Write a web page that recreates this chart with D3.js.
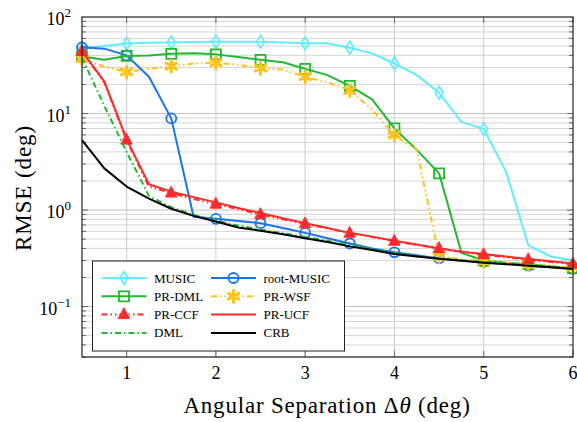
<!DOCTYPE html>
<html><head><meta charset="utf-8">
<script src="https://cdn.jsdelivr.net/npm/d3@7"></script>
<style>body{margin:0;background:#fff}svg{display:block}</style>
</head><body>
<svg id="c" width="577" height="422"></svg>
<script>
// ---- data ----
const xs = [0.5,0.75,1,1.25,1.5,1.75,2,2.25,2.5,2.75,3,3.25,3.5,3.75,4,4.25,4.5,4.75,5,5.25,5.5,5.75,6];
const music    = [47,50,53,54,54.5,55,55.5,55.5,55.5,54.3,53.3,53.3,48,42,33,25,16.4,8.2,6.9,2.5,0.43,0.33,0.30];
const rootMusic= [48.5,47,40,24,8.9,0.85,0.81,0.77,0.73,0.65,0.58,0.51,0.45,0.40,0.365,0.34,0.315,0.30,0.29,0.28,0.265,0.255,0.245];
const prDml    = [39,36,39.5,40,41.5,42,41,38.5,36,34,29,25,19.3,14,7.0,4.2,2.4,0.36,0.30,0.285,0.275,0.262,0.25];
const prWsf    = [37,30.5,27,29,31,33,33.6,32,29.5,28.5,24,21,17.3,11,6.0,4.2,0.33,0.31,0.295,0.285,0.272,0.262,0.255];
const prCcf    = [44,21,5.3,1.75,1.5,1.3,1.15,1.02,0.9,0.8,0.72,0.645,0.575,0.525,0.475,0.435,0.40,0.37,0.345,0.325,0.305,0.29,0.275];
const prUcf    = [44,21.5,5.4,1.85,1.55,1.36,1.2,1.05,0.93,0.82,0.73,0.65,0.58,0.53,0.48,0.44,0.40,0.37,0.35,0.33,0.31,0.295,0.28];
const dml      = [38,12,4.0,1.4,1.07,0.89,0.78,0.69,0.63,0.575,0.525,0.48,0.435,0.395,0.36,0.335,0.317,0.302,0.29,0.28,0.268,0.258,0.25];
const crb      = [5.3,2.7,1.75,1.31,1.03,0.87,0.76,0.66,0.61,0.56,0.51,0.466,0.42,0.385,0.35,0.33,0.312,0.298,0.285,0.275,0.265,0.255,0.245];
const xTicks = [1,2,3,4,5,6];
const yTicks = [0.1,1,10,100];
const yTickLabels = ["\u22121","0","1","2"];
const seriesNames = ["MUSIC","root-MUSIC","PR-DML","PR-WSF","PR-CCF","PR-UCF","DML","CRB"];

// ---- layout ----
const L=82, R=573, T=17, B=357;
const svg=d3.select("#c");
const x=d3.scaleLinear().domain([0.5,6]).range([L,R]);
const y=d3.scaleLog().domain([0.03,100]).range([B,T]);
const serif="'Liberation Serif','DejaVu Serif',serif";

// grid
const minor=[];
[0.01,0.1,1,10].forEach(d=>{for(let k=1;k<=9;k++){const v=d*k; if(v>=0.03&&v<=100) minor.push(v);}});
const g=svg.append("g");
g.selectAll(".hg").data(minor).join("line")
 .attr("x1",L).attr("x2",R).attr("y1",d=>y(d)).attr("y2",d=>y(d))
 .attr("stroke",d=>yTicks.includes(d)?"#c0c0c0":"#d6d6d6").attr("stroke-width",1);
g.selectAll(".vg").data([1,2,3,4,5]).join("line")
 .attr("x1",d=>x(d)).attr("x2",d=>x(d)).attr("y1",T).attr("y2",B)
 .attr("stroke","#cccccc").attr("stroke-width",1);
// ticks inside
g.selectAll(".lt").data(minor).join("line")
 .attr("x1",L).attr("x2",d=>L+(yTicks.includes(d)?6:4)).attr("y1",d=>y(d)).attr("y2",d=>y(d))
 .attr("stroke","#666").attr("stroke-width",1);
g.selectAll(".rt").data(minor).join("line")
 .attr("x1",R).attr("x2",d=>R-(yTicks.includes(d)?6:4)).attr("y1",d=>y(d)).attr("y2",d=>y(d))
 .attr("stroke","#666").attr("stroke-width",1);
g.selectAll(".tt").data(xTicks).join("line")
 .attr("x1",d=>x(d)).attr("x2",d=>x(d)).attr("y1",T).attr("y2",T+6).attr("stroke","#666");
g.selectAll(".bt").data(xTicks).join("line")
 .attr("x1",d=>x(d)).attr("x2",d=>x(d)).attr("y1",B).attr("y2",B-6).attr("stroke","#666");

// series definitions
const diamond="M0,-6.5L4,0L0,6.5L-4,0Z";
const square="M-5,-5H5V5H-5Z";
const tri="M0,-6.5L5.5,4H-5.5Z";
const asterisk="M0,-6V6M-5.2,-3L5.2,3M-5.2,3L5.2,-3";
const circle=d3.symbol(d3.symbolCircle,78)();
const defs=[
 {name:seriesNames[0],v:music,c:"#5eeeff",dash:null,m:diamond,fill:"none",mw:1.6,mIdx:[0,2,4,6,8,10,12,14,16,18]},
 {name:seriesNames[1],v:rootMusic,c:"#1a72ee",dash:null,m:circle,fill:"none",mw:1.8},
 {name:seriesNames[2],v:prDml,c:"#22b830",dash:null,m:square,fill:"none",mw:1.8},
 {name:seriesNames[3],v:prWsf,c:"#ffc21a",dash:"6,3,1.5,3,1.5,3",m:asterisk,fill:"none",mw:3},
 {name:seriesNames[4],v:prCcf,c:"#ff2a2a",dash:"6,3,1.5,3,1.5,3",m:tri,fill:"#ff2a2a",mw:1},
 {name:seriesNames[5],v:prUcf,c:"#ff2a2a",dash:null,m:null},
 {name:seriesNames[6],v:dml,c:"#22b830",dash:"6,3,1.5,3",m:null},
 {name:seriesNames[7],v:crb,c:"#000",dash:null,m:null}
];
const line=d3.line().x(d=>x(d[0])).y(d=>y(d[1]));
const plot=svg.append("g");
defs.forEach(s=>{
  const pts=xs.map((xv,i)=>[xv,s.v[i]]);
  plot.append("path").attr("d",line(pts)).attr("fill","none").attr("stroke",s.c)
   .attr("stroke-width",2).attr("stroke-linejoin","round")
   .attr("stroke-dasharray",s.dash);
  if(s.m){
    const idx=s.mIdx||xs.map((_,i)=>i).filter(i=>i%2===0);
    plot.selectAll(null).data(idx).join("path")
     .attr("d",s.m).attr("transform",i=>`translate(${x(xs[i])},${y(s.v[i])})`)
     .attr("fill",s.fill).attr("stroke",s.c).attr("stroke-width",s.mw)
     .attr("stroke-linecap","round");
  }
});

// frame
svg.append("rect").attr("x",L).attr("y",T).attr("width",R-L).attr("height",B-T)
 .attr("fill","none").attr("stroke","#222").attr("stroke-width",1.2);

// tick labels
svg.selectAll(".xl").data(xTicks).join("text").attr("x",d=>x(d)).attr("y",379)
 .attr("text-anchor","middle").attr("font-family",serif).attr("font-size",18).text(d=>d);
yTicks.forEach((v,i)=>{
  const t=svg.append("text").attr("x",71).attr("y",y(v)+8).attr("text-anchor","end")
   .attr("font-family",serif).attr("font-size",18);
  t.append("tspan").text("10");
  t.append("tspan").attr("dy",-8).attr("font-size",13).text(yTickLabels[i]);
});
// axis titles
const xt=svg.append("text").attr("x",327).attr("y",413).attr("text-anchor","middle")
 .attr("font-family",serif).attr("font-size",23).attr("letter-spacing",0.8);
xt.append("tspan").text("Angular Separation \u0394");
xt.append("tspan").attr("font-style","italic").text("\u03b8");
xt.append("tspan").text(" (deg)");
svg.append("text").attr("transform","translate(31,188) rotate(-90)").attr("text-anchor","middle")
 .attr("font-family",serif).attr("font-size",23).attr("letter-spacing",0.9).text("RMSE (deg)");

// legend
const lg=svg.append("g");
lg.append("rect").attr("x",92.5).attr("y",261).attr("width",252).attr("height",90)
 .attr("fill","#fff").attr("stroke","#222").attr("stroke-width",1);
defs.forEach((s,i)=>{
  const col=i%2, row=Math.floor(i/2);
  const x0=col?211:101.5, yy=278+row*18.3;
  lg.append("line").attr("x1",x0).attr("x2",x0+45).attr("y1",yy).attr("y2",yy)
   .attr("stroke",s.c).attr("stroke-width",2).attr("stroke-dasharray",s.dash);
  if(s.m) lg.append("path").attr("d",s.m).attr("transform",`translate(${x0+22.5},${yy})`)
   .attr("fill",s.fill).attr("stroke",s.c).attr("stroke-width",s.mw).attr("stroke-linecap","round");
  lg.append("text").attr("x",x0+52.5).attr("y",yy+4.5).attr("font-family",serif)
   .attr("font-size",13).text(s.name);
});
</script>
</body></html>
